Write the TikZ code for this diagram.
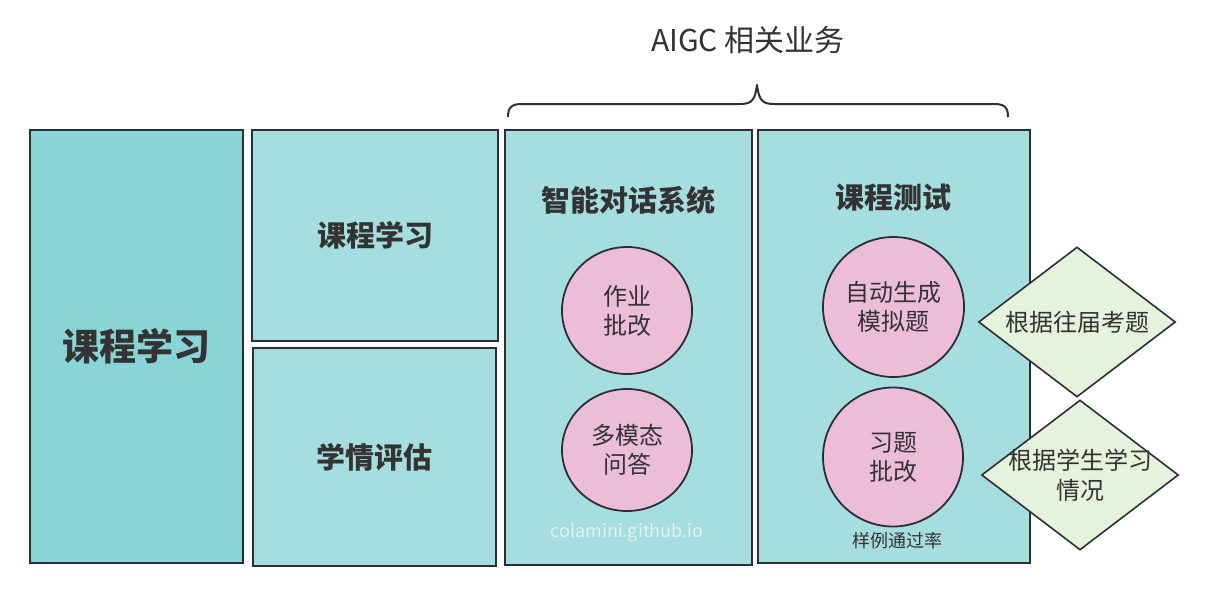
\documentclass[tikz,border=0pt]{standalone}
\usepackage{fontspec}
\setmainfont{Noto Sans CJK SC}
\usetikzlibrary{shapes.geometric}
\definecolor{ink}{HTML}{2B2F33}
\definecolor{txt}{HTML}{333333}
\definecolor{tealA}{HTML}{8AD3D6}
\definecolor{tealB}{HTML}{A6DEE0}
\definecolor{pinkC}{HTML}{ECBDD9}
\definecolor{greenD}{HTML}{E6F3DC}
\definecolor{wm}{HTML}{E3F1F2}
\tikzset{
  x=1pt,y=-1pt,
  panel/.style={draw=ink,line width=1.8pt,rectangle,inner sep=0pt,text=txt,font=\bfseries\fontsize{29}{34}\selectfont},
  bubble/.style={draw=ink,line width=1.8pt,fill=pinkC,ellipse,inner sep=0pt,align=center,text=txt,font=\fontsize{24}{29}\selectfont},
  rhomb/.style={draw=ink,line width=1.6pt,fill=greenD,diamond,minimum width=197pt,minimum height=150pt,inner sep=0pt},
  rtext/.style={align=center,text=txt,font=\fontsize{24}{30}\selectfont},
  title/.style={text=txt,font=\bfseries\fontsize{29}{34}\selectfont},
}
\begin{document}
\begin{tikzpicture}
\useasboundingbox[fill=white] (0,0) rectangle (1206,610);
% panels
\node[panel,fill=tealA,minimum width=213pt,minimum height=433pt,font=\bfseries\fontsize{37}{42}\selectfont] (main) at (136.5,346.5) {课程学习};
\node[panel,fill=tealB,minimum width=246pt,minimum height=211pt] (study) at (375,235.5) {\raisebox{-2pt}{课程学习}};
\node[panel,fill=tealB,minimum width=243pt,minimum height=218pt] (assess) at (374.5,457) {\raisebox{-2pt}{学情评估}};
\node[panel,fill=tealB,minimum width=247pt,minimum height=435pt] (dialog) at (628.5,347.5) {};
\node[panel,fill=tealB,minimum width=272pt,minimum height=433pt] (test) at (894,346.5) {};
% titles
\node[title] (dialogT) at (628,200) {智能对话系统};
\node[title] (testT) at (893,198) {课程测试};
\node[text=txt,font=\fontsize{30}{34}\selectfont] (aigc) at (748,40) {AIGC 相关业务};
% brace
\coordinate (bl) at (508,117);
\coordinate (br) at (1008,117);
\coordinate (bt) at (757,85);
\draw[ink,line width=2pt,line join=round]
  (bl) .. controls (508,107) and (512,104) .. (522,104)
  -- (740,104) .. controls (752,104) and (755,100) .. (bt)
  .. controls (759,100) and (762,104) .. (774,104)
  -- (994,104) .. controls (1004,104) and (1008,107) .. (br);
% bubbles
\node[bubble,minimum width=130pt,minimum height=127pt] (hw) at (627,310.5) {作业\\批改};
\node[bubble,minimum width=130pt,minimum height=122pt] (mm) at (627,450) {多模态\\问答};
\node[bubble,minimum width=141pt,minimum height=140pt] (gen) at (893.5,307) {自动生成\\模拟题};
\node[bubble,minimum width=140pt,minimum height=139pt] (ex) at (893,457) {习题\\批改};
% notes
\node[text=wm,font=\fontsize{18}{20}\selectfont] (mark) at (627,533) {colamini.github.io};
\node[text=txt,font=\fontsize{18}{20}\selectfont] (rate) at (897,541) {样例通过率};
% diamonds
\node[rhomb] (d1) at (1077,322) {};
\node[rtext] (d1t) at (d1.center) {根据往届考题};
\node[rhomb] (d2) at (1080,475) {};
\node[rtext] (d2t) at (d2.center) {根据学生学习\\情况};
\end{tikzpicture}
\end{document}
